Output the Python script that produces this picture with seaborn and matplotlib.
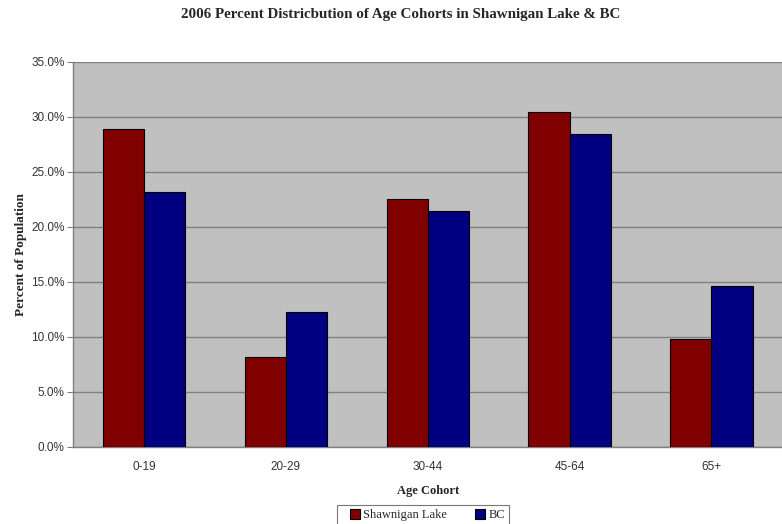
import matplotlib
matplotlib.use("Agg")
import matplotlib.pyplot as plt
import seaborn as sns
import pandas as pd
from matplotlib.ticker import FuncFormatter
from matplotlib.patches import Patch, Rectangle
from matplotlib.legend_handler import HandlerPatch

# Age cohort shares (percent of population), 2006 census
cohorts = ["0-19", "20-29", "30-44", "45-64", "65+"]
shawnigan = [28.9, 8.2, 22.5, 30.4, 9.8]
bc = [23.2, 12.3, 21.4, 28.4, 14.6]
series_names = ["Shawnigan Lake", "BC"]
series_colors = ["#800000", "#000080"]

df = pd.DataFrame({
    "Age Cohort": cohorts * 2,
    "Percent": shawnigan + bc,
    "Area": [series_names[0]] * len(cohorts) + [series_names[1]] * len(cohorts),
})

sns.set_style("white")
plt.rcParams["font.family"] = ["Liberation Sans", "DejaVu Sans"]

fig = plt.figure(figsize=(7.82, 5.24), dpi=100)
ax = fig.add_axes([0.0934, 0.147, 0.907, 0.735])
ax.set_facecolor("#C0C0C0")

sns.barplot(data=df, x="Age Cohort", y="Percent", hue="Area",
            hue_order=series_names, order=cohorts,
            palette=series_colors, width=0.58, gap=0,
            edgecolor="black", linewidth=0.8, saturation=1,
            legend=False, ax=ax, zorder=3)

ax.set_ylim(0, 35)
ax.set_xlim(-0.5, len(cohorts) - 0.5)
ax.set_yticks([0, 5, 10, 15, 20, 25, 30, 35])
ax.yaxis.set_major_formatter(FuncFormatter(lambda v, _: f"{v:.1f}%"))
ax.yaxis.grid(True, color="#808080", linewidth=1.0, zorder=1)
ax.set_axisbelow(True)

# category boundary ticks on the x axis
ax.set_xticks(range(len(cohorts)))
ax.set_xticklabels(cohorts)
ax.set_xticks([i - 0.5 for i in range(len(cohorts) + 1)], minor=True)
ax.tick_params(axis="x", which="major", length=0, pad=10, labelsize=8.5, colors="#333333")
ax.tick_params(axis="x", which="minor", length=4, width=0.8, color="#808080", direction="out")
ax.tick_params(axis="y", which="major", length=4, width=0.8, color="#808080",
               direction="out", labelsize=8.5, labelcolor="#333333", pad=2, left=True)

for side in ["top", "right"]:
    ax.spines[side].set_visible(False)
for side in ["left", "bottom"]:
    ax.spines[side].set_color("#808080")
    ax.spines[side].set_linewidth(1.0)

serif = ["Liberation Serif", "DejaVu Serif"]
ax.set_xlabel("Age Cohort", family=serif, fontweight="bold", fontsize=9, labelpad=9)
ax.set_ylabel("Percent of Population", family=serif, fontweight="bold", fontsize=9.5, labelpad=3)

fig.text(0.512, 0.972, "2006 Percent Districbution of Age Cohorts in Shawnigan Lake & BC",
         ha="center", va="center", family=serif, fontweight="bold", fontsize=10.8)


def square_at_right(legend, orig_handle, xdescent, ydescent, width, height, fontsize):
    s = 7.0
    return Rectangle((-xdescent + width - s, -ydescent + (height - s) / 2), s, s)


handles = [Patch(facecolor=c, edgecolor="black", linewidth=0.8) for c in series_colors]
leg = fig.legend(handles, series_names, loc="upper left", bbox_to_anchor=(0.431, 0.036),
                 borderaxespad=0,
                 ncol=2, frameon=True, fancybox=False, edgecolor="#555555",
                 prop={"family": serif, "size": 9.0}, handlelength=1.5, handleheight=0.8,
                 handletextpad=0.3, columnspacing=1.5, borderpad=0.3,
                 handler_map={Patch: HandlerPatch(patch_func=square_at_right)})
leg.get_frame().set_linewidth(0.8)

fig.savefig("out.png", dpi=100, facecolor="white")
